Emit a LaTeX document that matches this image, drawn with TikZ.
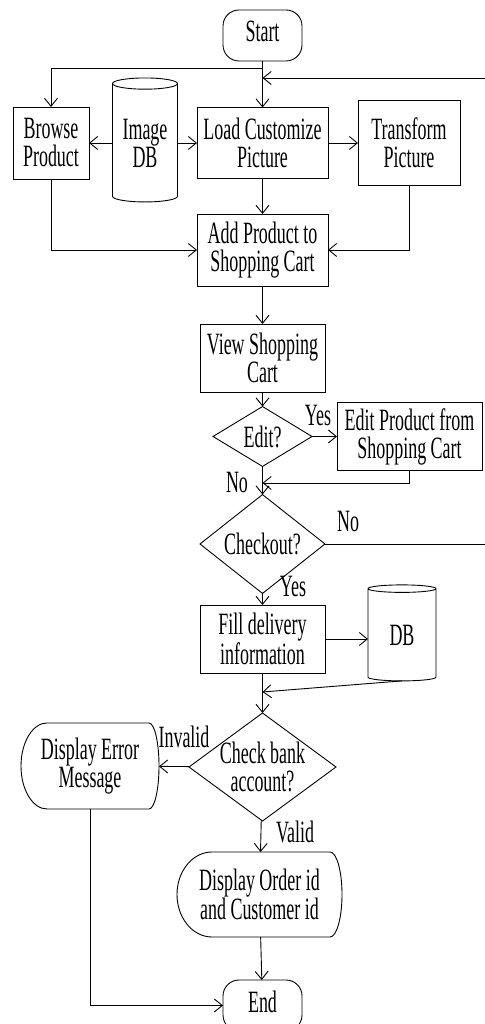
\documentclass[tikz,border=0pt]{standalone}
\usepackage{fontspec}
\setmainfont{Liberation Serif}[FakeStretch=0.58]
\usepackage{tikz}
\usetikzlibrary{arrows.meta,shapes.geometric,calc}

\begin{document}
\begin{tikzpicture}[x=1pt,y=1pt,line width=0.9pt,>={Straight Barb[length=8pt,width=13pt]},
  every node/.style={font=\fontsize{31}{28}\selectfont, align=center, inner sep=0pt, outer sep=0pt},
  proc/.style={draw, rectangle},
  term/.style={draw, rectangle, rounded corners=16pt, minimum width=79, minimum height=51},
  decision/.style={draw, diamond},
  store/.style={draw, cylinder, shape border rotate=90},
  disp/.style={rectangle}]
\useasboundingbox (0,0) rectangle (484,1024);
\node[term] (start) at (262.5,988.5) {Start\strut};
\node[proc, minimum width=76, minimum height=72] (browse) at (51,881) {Browse\\Product};
\node[store, aspect=0.25, minimum width=65, minimum height=124] (imgdb) at (145,881) {Image\\DB};
\node[proc, minimum width=131, minimum height=71] (load) at (262.5,881) {Load Customize\\Picture};
\node[proc, minimum width=102, minimum height=85] (transform) at (409,881) {Transform\\Picture};
\node[proc, minimum width=131, minimum height=72] (add) at (262.5,774) {Add Product to\\Shopping Cart};
\node[proc, minimum width=125, minimum height=68] (view) at (262.5,666) {View Shopping\\Cart};
\node[decision, minimum width=99, minimum height=42] (edit) at (262.5,587.5) {Edit?};
\node[proc, minimum width=145, minimum height=68] (editprod) at (409.5,587.5) {Edit Product from\\Shopping Cart};
\node[decision, minimum width=125, minimum height=72] (checkout) at (262.5,480) {Checkout?};
\node[proc, minimum width=125, minimum height=68] (fill) at (262.5,385) {Fill delivery\\information};
\node[store, aspect=0.3, minimum width=68, minimum height=96] (db) at (402,389) {DB};
\node[decision, inner sep=-10pt, minimum width=147, minimum height=108] (checkbank) at (262.5,257) {Check bank\\account?};
\node[disp, minimum width=138, minimum height=86] (err) at (90,258) {Display Error\\Message};
\node[disp, minimum width=165, minimum height=85] (order) at (259.5,129.5) {Display Order id\\and Customer id};
\node[term] (end) at (262.5,18.5) {End\strut};
% display outlines
\draw ([xshift=26pt]err.north west) -- ([xshift=-10pt]err.north east)
  arc[start angle=90, end angle=-90, x radius=10pt, y radius=43pt]
  -- ([xshift=26pt]err.south west)
  arc[start angle=270, end angle=90, x radius=26pt, y radius=43pt];
\draw ([xshift=35pt]order.north west) -- ([xshift=-12pt]order.north east)
  arc[start angle=90, end angle=-90, x radius=12pt, y radius=42.5pt]
  -- ([xshift=35pt]order.south west)
  arc[start angle=270, end angle=90, x radius=35pt, y radius=42.5pt];
% labels
\node (yes1) at (318,608) {Yes};
\node (no1) at (237,541) {No};
\node (no2) at (348,502) {No};
\node (yes2) at (293,437) {Yes};
\node (invalid) at (184,287) {Invalid};
\node (valid) at (295,192) {Valid};
% connectors
\coordinate (split) at (262.5,956);
\coordinate (loopin) at (262.5,946);
\coordinate (rail) at (490,946);
\coordinate (back) at (262.5,541);
\coordinate (merge) at (262.5,332);
\draw (start) -- (split);
\draw[->] (split) -- (load);
\draw[->] (split) -| (browse);
\draw[->] (imgdb) -- (browse);
\draw[->] (imgdb) -- (load);
\draw[->] (load) -- (transform);
\draw[->] (load) -- (add);
\draw[->] (browse) |- (add);
\draw[->] (transform) |- (add);
\draw[->] (add) -- (view);
\draw[->] (view) -- (edit);
\draw[->] (edit) -- (editprod);
\draw[->] (editprod) |- (back);
\draw[->] (edit) -- (checkout);
\draw[->] (checkout.east) -- (checkout.east -| rail) -- (rail) -- (loopin);
\draw[->] (checkout) -- (fill);
\draw[->] (fill.east) -- (db.west |- fill.east);
\draw[->] (db.south) -- (merge);
\draw[->] (fill) -- (checkbank);
\draw[->] (checkbank) -- (err);
\draw[->] (checkbank) -- (order);
\draw[->] (order) -- (end);
\draw[->] (err.south) |- (end.west);
\end{tikzpicture}
\end{document}
